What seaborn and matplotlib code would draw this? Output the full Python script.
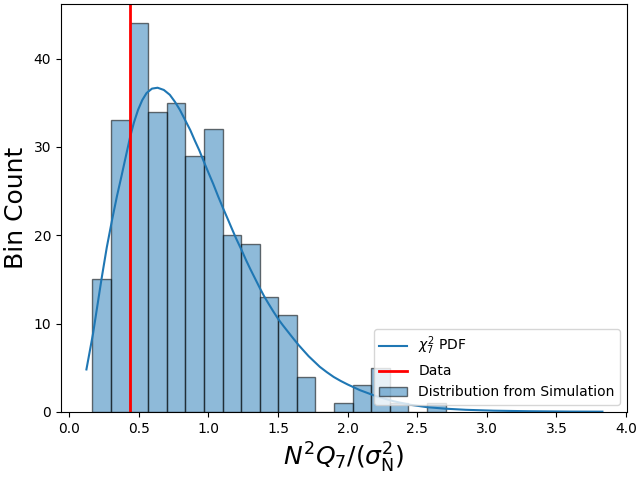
import numpy as np
import pandas as pd
import seaborn as sns
import matplotlib
matplotlib.use("Agg")
import matplotlib.pyplot as plt

# histogram from simulation (bin edges and counts)
bin_edges = [0.167, 0.3005, 0.434, 0.5675, 0.701, 0.8345, 0.968, 1.1015, 1.235,
             1.3685, 1.502, 1.6355, 1.769, 1.9025, 2.036, 2.1695, 2.303, 2.4365,
             2.57, 2.7035]
bin_counts = [15, 33, 44, 34, 35, 29, 32, 20, 19, 13, 11, 4, 0, 1, 3, 5, 1, 0, 1]

# chi^2_7 pdf curve, scaled to counts
pdf_x = [0.124, 0.172, 0.232, 0.27, 0.309, 0.343, 0.376, 0.406, 0.436, 0.465,
         0.495, 0.525, 0.556, 0.595, 0.635, 0.68, 0.723, 0.76, 0.795, 0.831,
         0.87, 0.903, 0.935, 0.963, 1.0, 1.035, 1.07, 1.107, 1.14, 1.167,
         1.2, 1.239, 1.27, 1.30, 1.335, 1.37, 1.40, 1.43, 1.465, 1.502,
         1.535, 1.57, 1.61, 1.646, 1.68, 1.72, 1.76, 1.80, 1.85, 1.90,
         1.95, 2.0, 2.089, 2.2, 2.33, 2.45, 2.57, 2.7, 2.85, 3.05,
         3.3, 3.6, 3.83]
pdf_y = [4.8, 8.9, 15.0, 18.6, 21.8, 24.4, 26.7, 28.85, 31.0, 32.75,
         34.2, 35.3, 36.1, 36.6, 36.7, 36.45, 35.9, 35.1, 34.2, 33.1,
         31.9, 30.7, 29.6, 28.5, 27.1, 25.8, 24.4, 23.0, 21.8, 20.8,
         19.6, 18.3, 17.2, 16.2, 15.1, 14.0, 13.1, 12.3, 11.4, 10.5,
         9.8, 9.1, 8.3, 7.6, 7.0, 6.3, 5.7, 5.1, 4.5, 3.95,
         3.5, 3.1, 2.45, 1.8, 1.2, 0.8, 0.53, 0.36, 0.23, 0.13,
         0.07, 0.03, 0.02]

data_value = 0.438

edges = np.array(bin_edges)
centers = (edges[:-1] + edges[1:]) / 2
hist_df = pd.DataFrame({'x': centers, 'count': bin_counts})
pdf_df = pd.DataFrame({'x': pdf_x, 'y': pdf_y})

fig, ax = plt.subplots(figsize=(6.4, 4.8), dpi=100)
sns.histplot(data=hist_df, x='x', weights='count', bins=list(bin_edges), ax=ax,
             color='C0', alpha=0.5, edgecolor=(0, 0, 0, 0.55), linewidth=1,
             label='Distribution from Simulation')
sns.lineplot(data=pdf_df, x='x', y='y', ax=ax, color='C0', linewidth=1.5,
             label=r'$\chi^2_7$ PDF')
ax.axvline(data_value, color='red', linewidth=2, label='Data')

handles, labels = ax.get_legend_handles_labels()
order = [r'$\chi^2_7$ PDF', 'Data', 'Distribution from Simulation']
pairs = dict(zip(labels, handles))
ax.legend([pairs[l] for l in order], order, loc='lower right')

ax.set_xlabel(r'$N^2Q_7/(\sigma_{\rm N}^2)$', fontsize=18)
ax.set_ylabel('Bin Count', fontsize=18)
ax.set_xticks([0.0, 0.5, 1.0, 1.5, 2.0, 2.5, 3.0, 3.5, 4.0])
ax.set_xlim(-0.06, 4.008)
fig.subplots_adjust(left=0.095, right=0.98, top=0.992, bottom=0.142)
plt.savefig('out.png')
